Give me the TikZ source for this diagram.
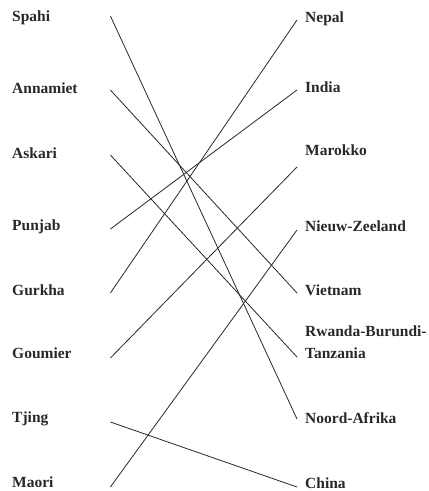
\documentclass[tikz,border=0pt]{standalone}
\usepackage{fontspec}
\setmainfont{Liberation Serif}
\usepackage{tikz}
\usetikzlibrary{positioning}
\definecolor{inkgray}{RGB}{40,40,40}

\begin{document}
\begin{tikzpicture}[
    x=1pt, y=-1pt,
    leftlabel/.style={
        anchor=base west, inner xsep=8pt, inner ysep=0pt, text width=90pt, align=left,
        font=\fontsize{15.5}{21.5}\selectfont\bfseries, text=inkgray
    },
    rightlabel/.style={
        anchor=base west, inner xsep=8pt, inner ysep=0pt, align=left,
        font=\fontsize{15.5}{21.5}\selectfont\bfseries, text=inkgray
    },
    link/.style={draw=inkgray, line width=0.8pt}
]
\useasboundingbox (0,0) rectangle (429,491);

\node [leftlabel] (spahi)    at (4,21)  {Spahi};
\node [leftlabel] (annamiet) at (4,93)  {Annamiet};
\node [leftlabel] (askari)   at (4,158) {Askari};
\node [leftlabel] (punjab)   at (4,230) {Punjab};
\node [leftlabel] (gurkha)   at (4,295) {Gurkha};
\node [leftlabel] (goumier)  at (4,358) {Goumier};
\node [leftlabel] (tjing)    at (4,422) {Tjing};
\node [leftlabel] (maori)    at (4,487) {Maori};

\node [rightlabel] (nepal)    at (297,22)  {Nepal};
\node [rightlabel] (india)    at (297,92)  {India};
\node [rightlabel] (marokko)  at (297,155) {Marokko};
\node [rightlabel] (zeeland)  at (297,231) {Nieuw-Zeeland};
\node [rightlabel] (vietnam)  at (297,295) {Vietnam};
\node [rightlabel] (rwanda)   at (297,358) {Rwanda-Burundi-\\Tanzania};
\node [rightlabel] (noord)    at (297,423) {Noord-Afrika};
\node [rightlabel] (china)    at (297,488) {China};

\draw [link] ([yshift=5pt]spahi.base east) -- ([yshift=4pt]noord.base west);
\draw [link] ([yshift=3pt]annamiet.base east) -- ([yshift=2pt]vietnam.base west);
\draw [link] ([yshift=3pt]askari.base east)   -- ([yshift=1pt]rwanda.base west);
\draw [link] ([yshift=1pt]punjab.base east)   -- ([yshift=2pt]india.base west);
\draw [link] ([yshift=2pt]gurkha.base east)   -- ([yshift=2pt]nepal.base west);
\draw [link] (goumier.base east)              -- ([yshift=-12pt]marokko.base west);
\draw [link] (tjing.base east)                -- ([yshift=1pt]china.base west);
\draw [link] (maori.base east)                -- ([yshift=1pt]zeeland.base west);
\end{tikzpicture}
\end{document}
